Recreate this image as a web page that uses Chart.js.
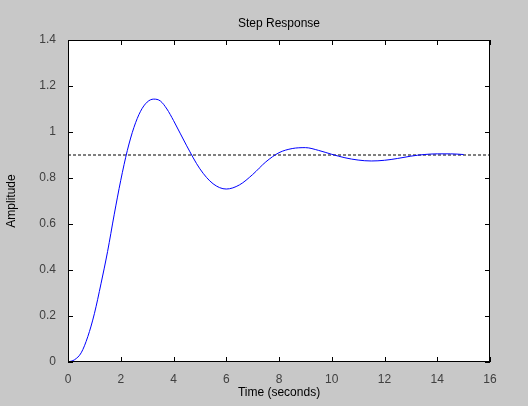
<!DOCTYPE html>
<html><head><script src="https://cdn.jsdelivr.net/npm/chart.js@4"></script>
<style>html,body{margin:0;background:#c8c8c8;}#w{width:528px;height:406px;}</style></head>
<body><div id="w"><canvas id="c"></canvas></div>
<script>
const timeValues=[0,0.25,0.5,0.75,1,1.25,1.5,1.75,2,2.25,2.5,2.75,3,3.25,3.5,3.75,4,4.5,5,5.5,6,6.5,7,7.5,8,8.5,9,9.5,10,10.5,11,11.5,12,12.5,13,13.5,14,14.5,15];
const amplitude=[0,0.01,0.04,0.11,0.21,0.34,0.48,0.64,0.79,0.92,1.02,1.09,1.13,1.143,1.135,1.1,1.05,0.94,0.84,0.775,0.752,0.77,0.815,0.87,0.91,0.928,0.932,0.92,0.903,0.888,0.878,0.874,0.877,0.885,0.895,0.902,0.905,0.905,0.902];
const steadyX=[0,16];const steadyY=[0.9,0.9];
const xTicks=[0,2,4,6,8,10,12,14,16];const yTicks=[0,0.2,0.4,0.6,0.8,1,1.2,1.4];
const deco={id:'deco',beforeDraw(ch){const a=ch.chartArea,c=ch.ctx;c.save();c.fillStyle='#fff';c.fillRect(a.left,a.top,a.right-a.left,a.bottom-a.top);c.restore();},
afterDraw(ch){const a=ch.chartArea,c=ch.ctx,x=ch.scales.x,y=ch.scales.y;c.save();c.strokeStyle='#000';c.lineWidth=1;
c.strokeRect(a.left+0.5,a.top+0.5,a.right-a.left-1,a.bottom-a.top-1);c.beginPath();
xTicks.forEach(v=>{const p=Math.round(x.getPixelForValue(v))+0.5;c.moveTo(p,a.bottom);c.lineTo(p,a.bottom-5);c.moveTo(p,a.top);c.lineTo(p,a.top+5);});
yTicks.forEach(v=>{const p=Math.round(y.getPixelForValue(v))+0.5;c.moveTo(a.left,p);c.lineTo(a.left+5,p);c.moveTo(a.right,p);c.lineTo(a.right-5,p);});
c.stroke();c.fillStyle='#000';c.font='12px "Liberation Sans", Arial';c.textAlign='center';c.textBaseline='bottom';
c.fillText('Step Response',(a.left+a.right)/2,a.top-10);c.restore();}};
new Chart(document.getElementById('c'),{type:'line',
data:{datasets:[
{data:timeValues.map((t,i)=>({x:t,y:amplitude[i]})),borderColor:'#0000ff',borderWidth:1,pointRadius:0,cubicInterpolationMode:'monotone',tension:0.4},
{data:steadyX.map((t,i)=>({x:t,y:steadyY[i]})),borderColor:'#000',borderWidth:1,borderDash:[3,2],pointRadius:0}]},
options:{animation:false,responsive:true,maintainAspectRatio:false,devicePixelRatio:1,
layout:{padding:{left:0,top:40,right:38,bottom:0}},
plugins:{legend:{display:false},tooltip:{enabled:false}},
scales:{
x:{type:'linear',min:0,max:16,afterBuildTicks(s){s.ticks=xTicks.map(v=>({value:v}));},afterFit(s){s.height=44;},
grid:{display:false},border:{display:false},ticks:{color:'#404040',font:{size:12,family:'"Liberation Sans", Arial'},padding:2,maxRotation:0},
title:{display:true,text:'Time (seconds)',color:'#000',font:{size:12,family:'"Liberation Sans", Arial'},padding:{top:0,bottom:6}}},
y:{min:0,max:1.4,afterBuildTicks(s){s.ticks=yTicks.map(v=>({value:v}));},afterFit(s){s.width=68;},
grid:{display:false},border:{display:false},ticks:{color:'#404040',font:{size:12,family:'"Liberation Sans", Arial'},padding:4,callback:v=>String(Math.round(v*10)/10)},
title:{display:true,text:'Amplitude',color:'#000',font:{size:12,family:'"Liberation Sans", Arial'},padding:{bottom:6}}}}},
plugins:[deco]});
</script></body></html>
